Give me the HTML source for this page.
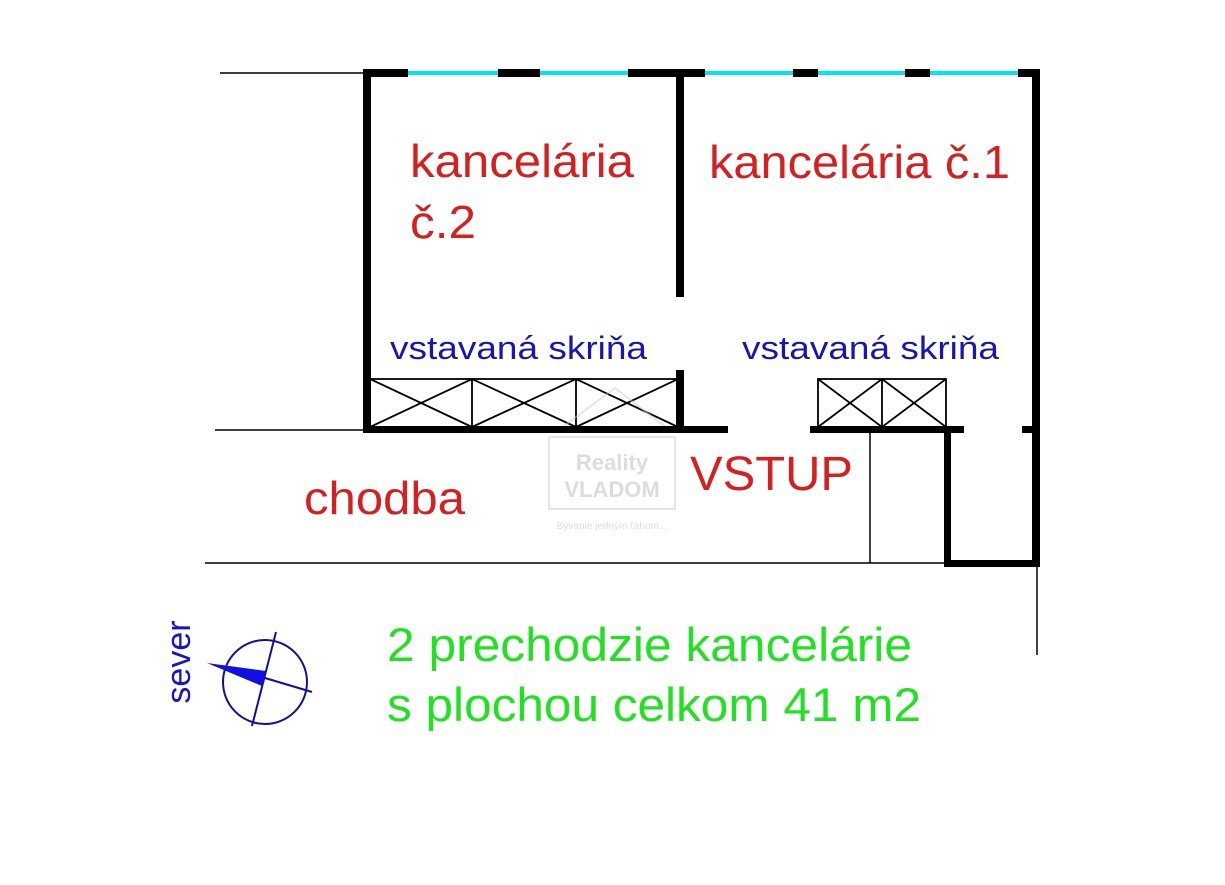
<!DOCTYPE html>
<html><head><meta charset="utf-8"><style>
html,body{margin:0;padding:0;background:#fff;width:1225px;height:885px;overflow:hidden}
</style></head><body>
<svg width="1225" height="885" xmlns="http://www.w3.org/2000/svg" style="font-family:'Liberation Sans',sans-serif">
<rect width="1225" height="885" fill="#fff"/>
<g stroke="#000" stroke-width="1.5" fill="none">
<line x1="220" y1="73" x2="364" y2="73"/>
<line x1="215" y1="430" x2="364" y2="430"/>
<line x1="205" y1="563" x2="946" y2="563"/>
<line x1="870" y1="432" x2="870" y2="563"/>
<line x1="1037" y1="566" x2="1037" y2="655"/>
</g>
<g stroke="#000" stroke-width="1.8" fill="none">
<rect x="370" y="379" width="308" height="48"/>
<line x1="472" y1="379" x2="472" y2="427"/><line x1="576" y1="379" x2="576" y2="427"/>
<line x1="370" y1="379" x2="472" y2="427"/><line x1="472" y1="379" x2="370" y2="427"/>
<line x1="472" y1="379" x2="576" y2="427"/><line x1="576" y1="379" x2="472" y2="427"/>
<line x1="576" y1="379" x2="678" y2="427"/><line x1="678" y1="379" x2="576" y2="427"/>
<rect x="818" y="379" width="128" height="48"/>
<line x1="882" y1="379" x2="882" y2="427"/>
<line x1="818" y1="379" x2="882" y2="427"/><line x1="882" y1="379" x2="818" y2="427"/>
<line x1="882" y1="379" x2="946" y2="427"/><line x1="946" y1="379" x2="882" y2="427"/>
</g>
<g opacity="0.5">
<rect x="549" y="437" width="126" height="72" fill="none" stroke="#ccc" stroke-width="2"/>
<polyline points="556,432 615,388 672,432" fill="none" stroke="#ccc" stroke-width="2"/>
<text x="612" y="470" font-size="22" font-weight="bold" fill="#bbb" text-anchor="middle">Reality</text>
<text x="612" y="497" font-size="22" font-weight="bold" fill="#bbb" text-anchor="middle">VLADOM</text>
<text x="612" y="529" font-size="10" fill="#bbb" text-anchor="middle">Bývanie jedným ťahom...</text>
</g>
<g fill="#000">
<rect x="363" y="69" width="45" height="8"/>
<rect x="498" y="69" width="42" height="8"/>
<rect x="628" y="69" width="77" height="8"/>
<rect x="793" y="69" width="25" height="8"/>
<rect x="905" y="69" width="25" height="8"/>
<rect x="1018" y="69" width="22" height="8"/>
<rect x="363" y="69" width="8" height="364"/>
<rect x="676" y="69" width="8" height="228"/>
<rect x="676" y="370" width="8" height="63"/>
<rect x="363" y="426" width="365" height="7"/>
<rect x="810" y="426" width="154" height="7"/>
<rect x="1022" y="426" width="16" height="7"/>
<rect x="1032" y="69" width="8" height="498"/>
<rect x="944" y="426" width="7" height="141"/>
<rect x="944" y="560" width="96" height="7"/>
</g>
<g fill="#00e5ee">
<rect x="408" y="71" width="90" height="4"/>
<rect x="540" y="71" width="88" height="4"/>
<rect x="705" y="71" width="88" height="4"/>
<rect x="818" y="71" width="87" height="4"/>
<rect x="930" y="71" width="88" height="4"/>
</g>
<g fill="#d42020" font-size="46" lengthAdjust="spacingAndGlyphs">
<text x="410" y="177" textLength="224" lengthAdjust="spacingAndGlyphs">kancelária</text>
<text x="410" y="238" textLength="66" lengthAdjust="spacingAndGlyphs">č.2</text>
<text x="709" y="178" textLength="301" lengthAdjust="spacingAndGlyphs">kancelária č.1</text>
<text x="304" y="514" textLength="161" lengthAdjust="spacingAndGlyphs">chodba</text>
<text x="690" y="490" font-size="48" textLength="163" lengthAdjust="spacingAndGlyphs">VSTUP</text>
</g>
<g fill="#1616b0" font-size="32">
<text x="390" y="359" textLength="257" lengthAdjust="spacingAndGlyphs">vstavaná skriňa</text>
<text x="742" y="359" textLength="257" lengthAdjust="spacingAndGlyphs">vstavaná skriňa</text>
</g>
<g fill="#22e022" font-size="47">
<text x="387" y="661" textLength="525" lengthAdjust="spacingAndGlyphs">2 prechodzie kancelárie</text>
<text x="387" y="721" textLength="534" lengthAdjust="spacingAndGlyphs">s plochou celkom 41 m2</text>
</g>
<g stroke="#10109a" stroke-width="2" fill="none">
<circle cx="265" cy="682" r="42"/>
<line x1="276" y1="632" x2="252" y2="726"/>
<line x1="265" y1="678" x2="312" y2="692"/>
</g>
<polygon points="207,663 266,671 262,686" fill="#1010e0"/>
<text transform="translate(190,662) rotate(-90)" font-size="34" fill="#1616c8" text-anchor="middle">sever</text>
</svg>
</body></html>
